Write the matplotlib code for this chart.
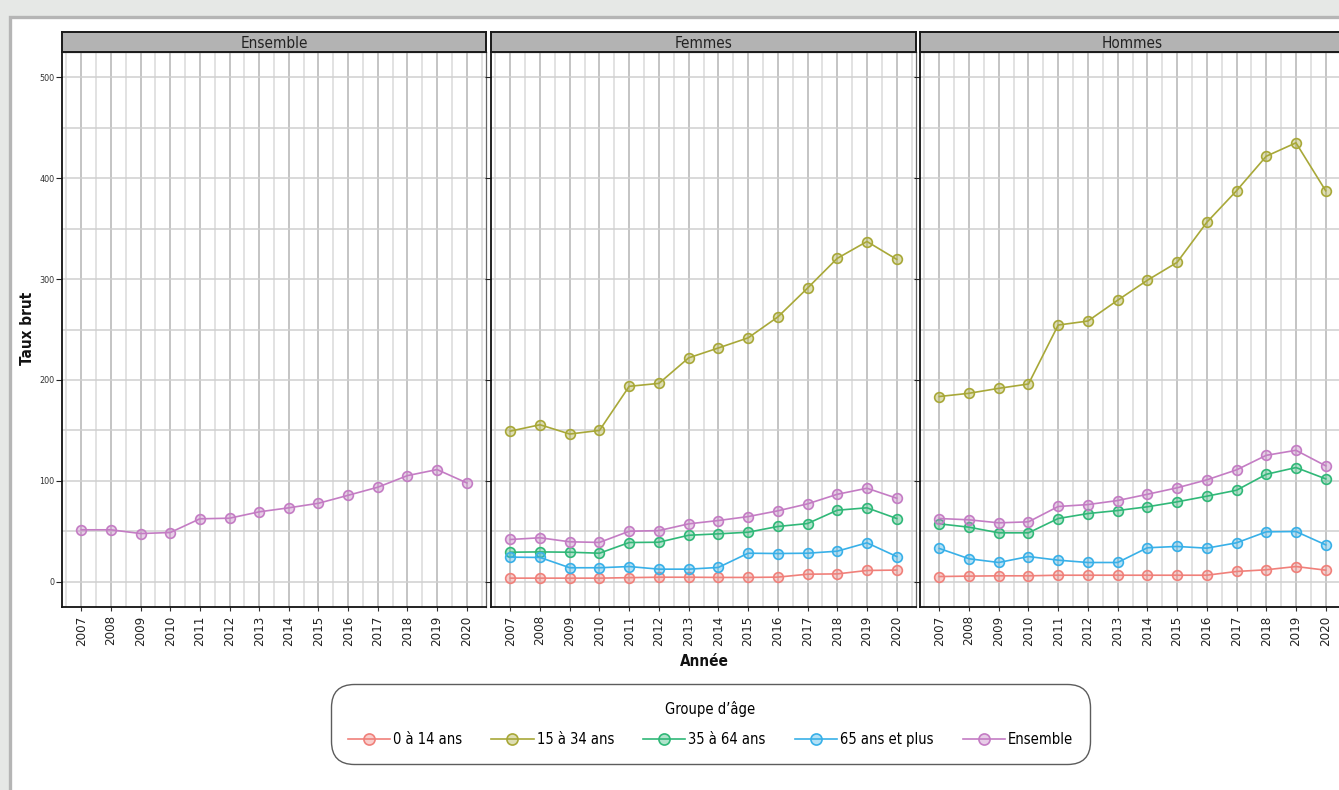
import matplotlib
matplotlib.use("Agg")
import matplotlib.pyplot as plt
from matplotlib.patches import Rectangle
from matplotlib.lines import Line2D
from matplotlib.ticker import MultipleLocator

plt.rcParams['font.family'] = ['DejaVu Sans']
plt.rcParams['font.stretch'] = 'condensed'

# --- data ---
years = list(range(2007, 2021))
panels = ["Ensemble", "Femmes", "Hommes"]
groups = ["0 à 14 ans", "15 à 34 ans", "35 à 64 ans", "65 ans et plus", "Ensemble"]
colors = ["#F0807A", "#A8A838", "#30B878", "#38B0E8", "#C47CC4"]

ens_total = [51.5, 51.5, 47.8, 48.8, 62.4, 63.0, 69.3, 73.3, 77.8, 85.7, 93.7, 105.2, 111.2, 98.0]

f_0_14 = [3.6, 3.6, 3.6, 3.6, 4.1, 4.5, 4.5, 4.3, 4.3, 4.6, 7.5, 7.8, 11.2, 11.6]
f_15_34 = [149.3, 155.6, 146.4, 150.0, 193.7, 196.6, 221.9, 231.7, 241.7, 262.4, 291.0, 320.5, 337.2, 319.5]
f_35_64 = [29.3, 29.6, 29.3, 28.3, 38.9, 39.2, 46.1, 47.5, 49.1, 54.8, 57.7, 70.9, 73.3, 62.7]
f_65 = [24.4, 24.1, 13.9, 13.9, 15.1, 12.5, 12.5, 14.2, 28.3, 28.0, 28.3, 30.3, 38.6, 25.0]
f_ens = [41.9, 43.6, 39.6, 39.0, 50.1, 50.7, 57.4, 60.7, 64.6, 70.3, 77.2, 86.7, 92.7, 82.8]

h_0_14 = [5.2, 5.6, 5.9, 5.9, 6.5, 6.5, 6.5, 6.5, 6.5, 6.5, 10.2, 11.9, 15.1, 11.5]
h_15_34 = [183.6, 186.8, 191.7, 196.0, 254.4, 258.4, 279.0, 298.8, 316.5, 356.2, 387.5, 421.7, 435.0, 387.5]
h_35_64 = [57.4, 54.1, 48.5, 48.5, 62.7, 67.6, 70.6, 74.3, 79.2, 84.8, 90.7, 106.5, 113.2, 102.0]
h_65 = [33.0, 22.8, 19.1, 25.0, 21.4, 19.1, 19.1, 33.7, 35.0, 33.3, 38.6, 49.5, 49.8, 36.6]
h_ens = [62.7, 61.4, 58.4, 59.4, 74.6, 76.5, 80.5, 86.7, 93.1, 101.0, 110.9, 125.3, 130.3, 114.9]

series = {
    "Ensemble": {"Ensemble": ens_total},
    "Femmes": {"0 à 14 ans": f_0_14, "15 à 34 ans": f_15_34, "35 à 64 ans": f_35_64,
               "65 ans et plus": f_65, "Ensemble": f_ens},
    "Hommes": {"0 à 14 ans": h_0_14, "15 à 34 ans": h_15_34, "35 à 64 ans": h_35_64,
               "65 ans et plus": h_65, "Ensemble": h_ens},
}

W, H = 1339, 790
fig = plt.figure(figsize=(W / 100, H / 100), dpi=100, facecolor="#E6E8E6")

# white card with grey border
fig.patches.append(Rectangle((9.5 / W, -0.1), 1.2, 1.1 - 16.5 / H, transform=fig.transFigure,
                             facecolor="white", edgecolor="#B5B5B5", linewidth=2.4, zorder=-5))

panel_x = [(62, 486), (491, 916), (920, 1345)]
top, bottom, strip_top = 52, 607, 32


def fx(px):
    return px / W


def fy(py):
    return 1 - py / H


for i, (name, (x0, x1)) in enumerate(zip(panels, panel_x)):
    ax = fig.add_axes([fx(x0), fy(bottom), fx(x1 - x0), (bottom - top) / H])
    ax.set_xlim(2006.35, 2020.65)
    ax.set_ylim(-25, 525)
    ax.xaxis.set_major_locator(MultipleLocator(1))
    ax.xaxis.set_minor_locator(MultipleLocator(0.5))
    ax.yaxis.set_major_locator(MultipleLocator(100))
    ax.yaxis.set_minor_locator(MultipleLocator(50))
    ax.grid(True, which="major", axis="x", color="#B4B4B4", linewidth=1.1)
    ax.grid(True, which="minor", axis="x", color="#DADADA", linewidth=1.1)
    ax.grid(True, which="both", axis="y", color="#CFCFCF", linewidth=1.1)
    ax.set_axisbelow(True)
    ax.tick_params(axis="x", which="minor", length=0)
    ax.tick_params(axis="y", which="minor", length=0)
    ax.tick_params(axis="x", which="major", length=3, width=0.8, color="#333333",
                   labelsize=9.5, labelrotation=90, pad=3, labelcolor="#222222")
    ax.tick_params(axis="y", which="major", length=4, width=0.8, color="#222222",
                   labelsize=6.5, pad=1.5, labelcolor="#333333")
    ax.set_xticks(years)
    ax.set_xticklabels([str(y) for y in years])
    if i > 0:
        ax.tick_params(axis="y", labelleft=False)
    for side in ["left", "bottom"]:
        ax.spines[side].set_color("#111111")
        ax.spines[side].set_linewidth(1.3)
    for side in ["right", "top"]:
        ax.spines[side].set_color("#666666")
        ax.spines[side].set_linewidth(0.9)

    for g, c in zip(groups, colors):
        if g in series[name]:
            ax.plot(years, series[name][g], color=c, linewidth=1.2, marker="o",
                    markersize=7.0, markerfacecolor=c + "60", markeredgecolor=c,
                    markeredgewidth=1.2, zorder=3, clip_on=False)

    # strip
    sax = fig.add_axes([fx(x0), fy(top), fx(x1 - x0), (top - strip_top) / H])
    sax.set_facecolor("#B3B3B3")
    sax.set_xticks([])
    sax.set_yticks([])
    for sp in sax.spines.values():
        sp.set_color("#1A1A1A")
        sp.set_linewidth(1.4)
    sax.text(0.5, 0.45, name, transform=sax.transAxes, ha="center", va="center",
             fontsize=11, color="#222222")

fig.text(fx(28), fy(328), "Taux brut", rotation=90, ha="center", va="center",
         fontsize=11, fontweight="bold", color="#111111")
fig.text(fx(704), fy(661), "Année", ha="center", va="center",
         fontsize=11, fontweight="bold", color="#111111")

handles = [Line2D([0], [0], color=c, linewidth=1.2, marker="o", markersize=8,
                  markerfacecolor=c + "60", markeredgecolor=c, markeredgewidth=1.2)
           for c in colors]
leg = fig.legend(handles, groups, loc="center", bbox_to_anchor=(fx(710.5), fy(724)),
                 ncol=5, title="Groupe d’âge", fontsize=10.5, title_fontsize=10.5,
                 frameon=True, fancybox=True, handlelength=2.9, handletextpad=0.2,
                 columnspacing=2.0, borderpad=1.15, labelspacing=0.3)
frame = leg.get_frame()
frame.set_edgecolor("#333333")
frame.set_linewidth(1.0)
frame.set_boxstyle("round", pad=0.0, rounding_size=1.6)
leg._legend_box.sep = 11

fig.savefig("out.png", dpi=100, facecolor=fig.get_facecolor())
